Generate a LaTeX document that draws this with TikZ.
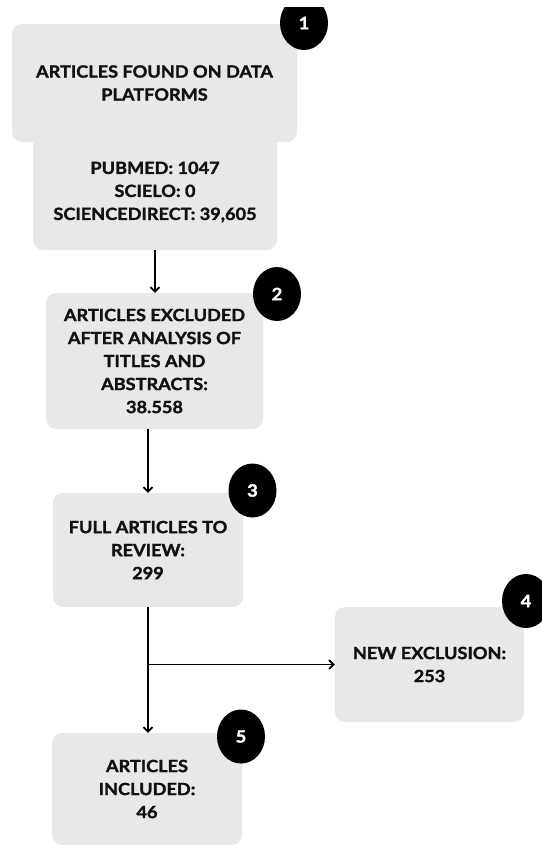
\documentclass[tikz,border=0pt]{standalone}
\usepackage{fontspec}
\setmainfont{Lato}[BoldFeatures={FakeBold=1.6,FakeStretch=1.08}]
\usetikzlibrary{shapes.geometric,arrows.meta}
\definecolor{boxgray}{RGB}{232,232,234}
\definecolor{ink}{RGB}{17,17,17}
\begin{document}
\begin{tikzpicture}[x=1pt,y=-1pt,
  box/.style={rectangle,rounded corners=10pt,fill=boxgray,inner sep=0pt,
    align=center,text=ink,font=\bfseries\fontsize{16.8}{23}\selectfont},
  label/.style={inner sep=0pt,align=center,text=ink,font=\bfseries\fontsize{16.8}{23}\selectfont},
  badge/.style={ellipse,fill=black,minimum width=48pt,minimum height=54pt,inner sep=0pt,
    text=white,font=\bfseries\fontsize{17}{18}\selectfont},
  conn/.style={line width=1.8pt,-{Straight Barb[length=4.5pt,width=9pt,line width=1.8pt]}}
]
\useasboundingbox (0,0) rectangle (541,846);
% box 1 (two parts)
\node[box,minimum width=244pt,minimum height=130pt] (b1low) at (155,185) {};
\node[box,minimum width=285pt,minimum height=118pt] (b1up) at (154.5,83)
  {ARTICLES FOUND ON DATA\\PLATFORMS};
\node[label] (t1b) at (155,192) {PUBMED: 1047\\SCIELO: 0\\SCIENCEDIRECT: 39,605};
% other boxes
\node[box,minimum width=217pt,minimum height=136pt] (b2) at (154.5,361)
  {ARTICLES EXCLUDED\\AFTER ANALYSIS OF\\TITLES AND\\ABSTRACTS:\\38.558};
\node[box,minimum width=190pt,minimum height=114pt] (b3) at (148,550)
  {FULL ARTICLES TO\\REVIEW:\\299};
\node[box,minimum width=189pt,minimum height=115pt] (b4) at (429.5,664.5)
  {NEW EXCLUSION:\\253};
\node[box,minimum width=190pt,minimum height=112pt] (b5) at (147,789)
  {ARTICLES\\INCLUDED:\\46};
% badges
\begin{scope}
\clip (0,7) rectangle (541,846);
\node[badge] (n1) at (304,23) {1};
\end{scope}
\node[badge] (n2) at (277,294) {2};
\node[badge] (n3) at (252.5,490.5) {3};
\node[badge] (n4) at (526,601) {4};
\node[badge] (n5) at (241,736.5) {5};
% connectors
\draw[conn] (b1low.south) -- (b2.north -| b1low.south);
\draw[conn] (b2.south -| b3.north) -- (b3.north);
\draw[conn] (b3.south) -- (b5.north -| b3.south);
\coordinate (br) at (b3.south |- b4.west);
\draw[conn] (br) -- (b4.west);
\end{tikzpicture}
\end{document}
